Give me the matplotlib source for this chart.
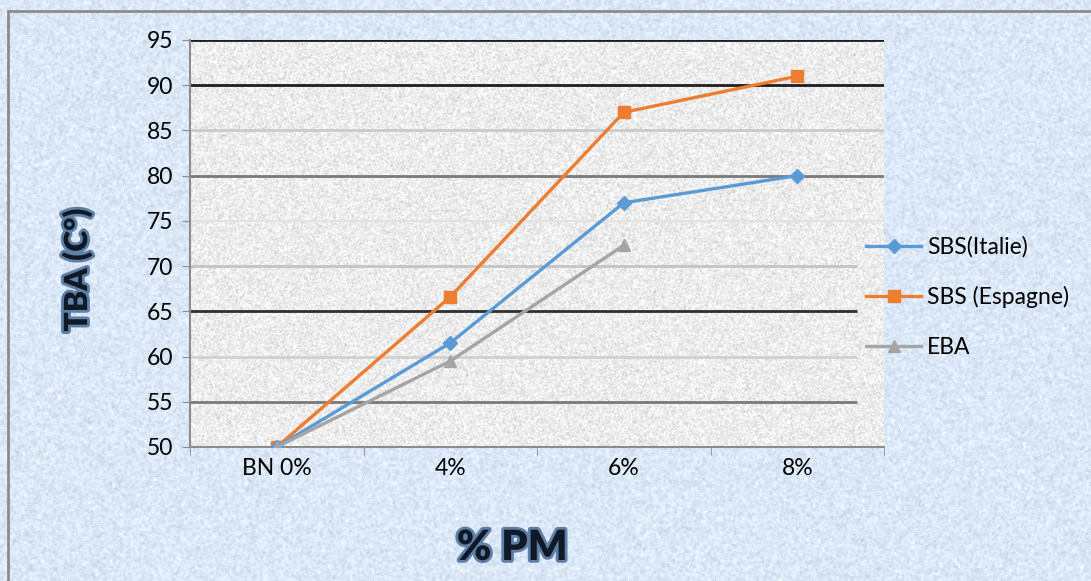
import numpy as np
import matplotlib.pyplot as plt
import matplotlib.patheffects as pe
from matplotlib.lines import Line2D

# categories and measured softening points (TBA, °C)
categories = ['BN 0%', '4%', '6%', '8%']
sbs_italie = [50, 61.5, 77, 80]
sbs_espagne = [50, 66.6, 87, 91]
eba = [50, 59.5, 72.3]

y_ticks = [50, 55, 60, 65, 70, 75, 80, 85, 90, 95]

plt.rcParams['font.family'] = ['Lato', 'DejaVu Sans']


def texture(h, w, base, amp, seed, smooth=3):
    # soft paper-like speckle for the chart backgrounds
    rng = np.random.default_rng(seed)
    n = rng.normal(0, 1, (h, w))
    k = np.ones(smooth) / smooth
    n = np.apply_along_axis(lambda r: np.convolve(r, k, mode='same'), 1, n)
    n = np.apply_along_axis(lambda c: np.convolve(c, k, mode='same'), 0, n)
    n = n / n.std()
    img = np.array(base)[None, None, :] + amp * n[:, :, None]
    return np.clip(img, 0, 1)


fig = plt.figure(figsize=(10.91, 5.81), dpi=100)

# light blue chart area with a thin grey frame on top and left
bg = fig.add_axes([0, 0, 1, 1], zorder=-10)
bg.imshow(texture(581, 1091, (0.86, 0.91, 0.97), 0.025, 1), extent=[0, 1, 0, 1],
          aspect='auto', interpolation='bilinear')
fx, fy = 8 / 1091, 1 - 11 / 581
bg.plot([fx, fx, 1], [0, fy, fy], color='#8c8c8c', linewidth=2,
        solid_joinstyle='miter')
bg.set_xlim(0, 1)
bg.set_ylim(0, 1)
bg.axis('off')

ax = fig.add_axes([190 / 1091, 1 - 447 / 581, 694 / 1091, 407 / 581])
x = np.arange(len(categories))
ax.set_xlim(-0.5, 3.5)
ax.set_ylim(50, 95)

# grey speckled plot area
ax.imshow(texture(407, 694, (0.93, 0.93, 0.93), 0.035, 2, smooth=2),
          extent=[-0.5, 3.5, 50, 95], aspect='auto', zorder=0,
          interpolation='bilinear')

# gridlines drawn one by one with their own weights
grid_style = {
    95: ('#1e1e1e', 2.0, 3.5),
    90: ('#1e1e1e', 2.0, 3.5),
    85: ('#cacaca', 2.0, 3.5),
    80: ('#7a7a7a', 2.0, 3.5),
    75: ('#e2e2e2', 1.5, 3.5),
    70: ('#c4c4c4', 2.0, 3.344),
    65: ('#2e2e2e', 2.0, 3.344),
    60: ('#d0d0d0', 2.0, 3.344),
    55: ('#7a7a7a', 2.0, 3.344),
}
for yv, (c, lw, xmax) in grid_style.items():
    ax.plot([-0.5, xmax], [yv, yv], color=c, linewidth=lw, zorder=1,
            solid_capstyle='butt')

ax.plot(x, sbs_italie, color='#5B9BD5', linewidth=2.4, marker='D',
        markersize=7, zorder=4, label='SBS(Italie)')
ax.plot(x, sbs_espagne, color='#ED7D31', linewidth=2.4, marker='s',
        markersize=9, zorder=3, label='SBS (Espagne)')
ax.plot(x[:len(eba)], eba, color='#A5A5A5', linewidth=2.4, marker='^',
        markersize=9, zorder=5, label='EBA')

ax.set_yticks(y_ticks)
ax.set_xticks(x)
ax.set_xticklabels(categories)
ax.set_xticks(np.arange(-0.5, 4, 1), minor=True)
ax.tick_params(axis='y', labelsize=16.5, length=6, color='#8c8c8c', pad=6)
ax.tick_params(axis='x', which='major', length=0, labelsize=16.5, pad=8)
ax.tick_params(axis='x', which='minor', length=6, color='#8c8c8c')

for side in ['top', 'right']:
    ax.spines[side].set_visible(False)
for side in ['left', 'bottom']:
    ax.spines[side].set_color('#8c8c8c')
    ax.spines[side].set_linewidth(1.5)

glow = [pe.withStroke(linewidth=4, foreground='#5f7fa6')]
fig.text(77 / 1091, 1 - 270 / 581, 'TBA (C°)', rotation=90, ha='center', va='center',
         fontsize=23, fontweight='heavy', color='#101a26', path_effects=glow)
fig.text(512 / 1091, 1 - 548 / 581, '% PM', ha='center', va='center',
         fontsize=30, fontweight='heavy', color='#101a26', path_effects=glow)

handles = [
    Line2D([], [], color='#5B9BD5', linewidth=2.4, marker='D', markersize=7),
    Line2D([], [], color='#ED7D31', linewidth=2.4, marker='s', markersize=9),
    Line2D([], [], color='#A5A5A5', linewidth=2.4, marker='^', markersize=9),
]
fig.legend(handles, ['SBS(Italie)', 'SBS (Espagne)', 'EBA'],
           loc='center left', bbox_to_anchor=(866 / 1091, 1 - 297 / 581),
           frameon=False, fontsize=16.5, handlelength=2.4, handletextpad=0.25,
           labelspacing=1.25, borderaxespad=0, borderpad=0)

fig.savefig('out.png', dpi=100)
